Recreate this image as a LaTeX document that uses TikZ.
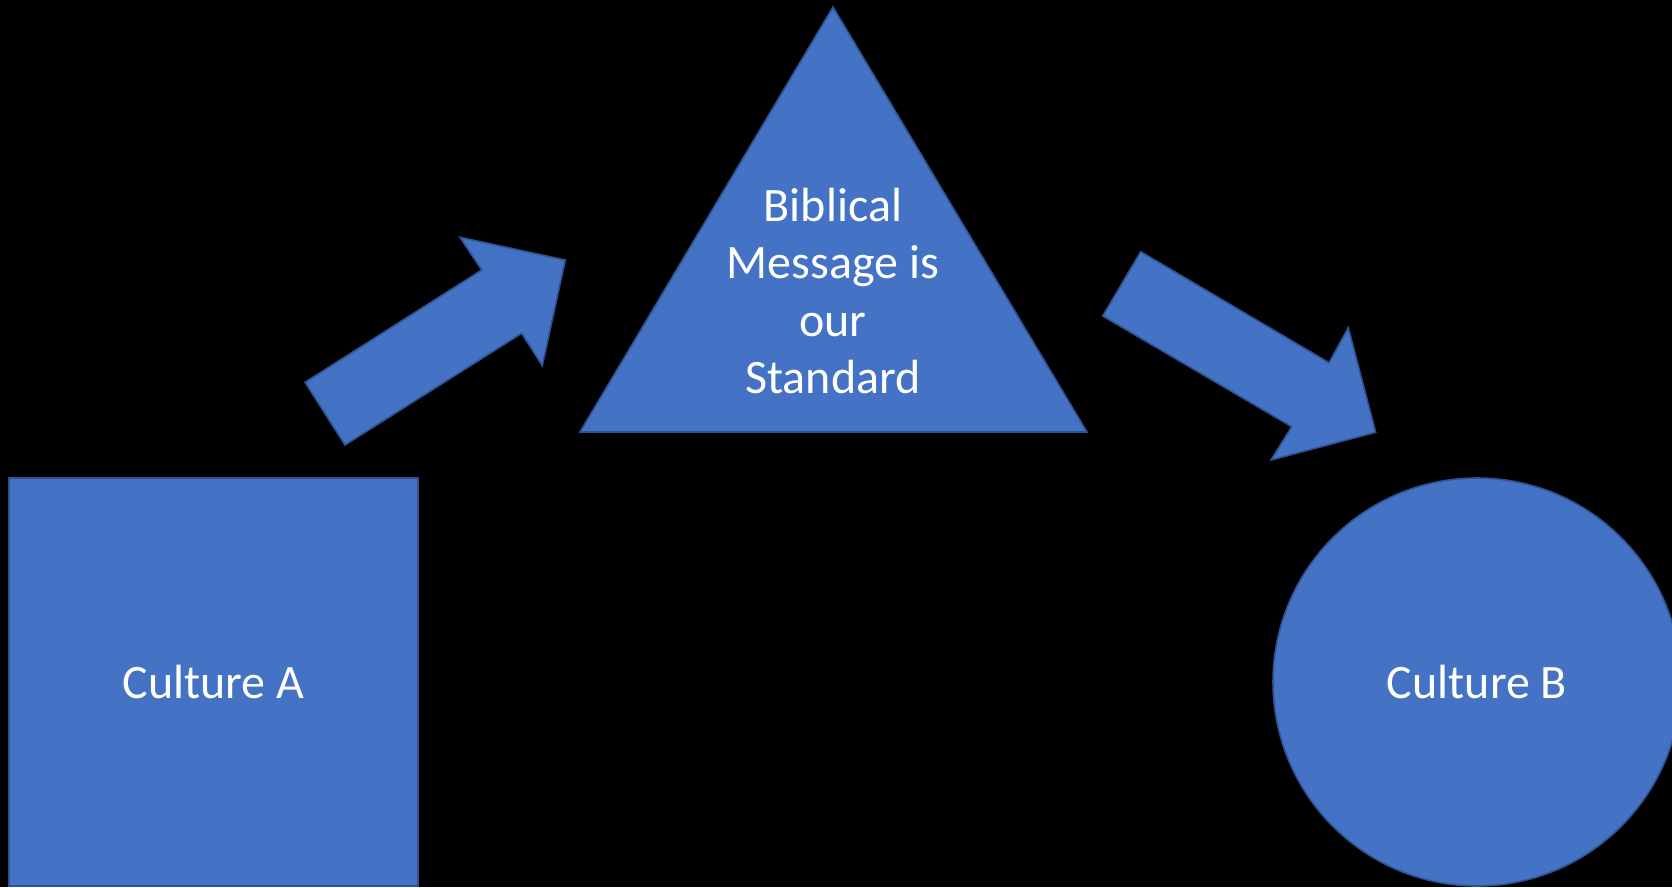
\documentclass[tikz,border=0pt]{standalone}
\usepackage{fontspec}
\setmainfont{Carlito}
\definecolor{shapefill}{HTML}{4472C4}
\definecolor{shapeedge}{HTML}{2F528F}
\begin{document}
\begin{tikzpicture}[x=1pt,y=-1pt,
  shapestyle/.style={fill=shapefill,draw=shapeedge,line width=1.6pt,line join=miter},
  labeltext/.style={text=white,font=\fontsize{48}{57.6}\selectfont,align=center,inner sep=0pt}]
\useasboundingbox (0,0) rectangle (1672,887);
\fill[black] (0,0) rectangle (1672,887);
\begin{scope}
\clip (0,0) rectangle (1672,887);
% Culture A square
\node[shapestyle,rectangle,minimum width=409pt,minimum height=408pt,inner sep=0pt] (cultA) at (213.5,682) {};
\node[labeltext] (cultAtext) at (cultA.center) {Culture A};
% Culture B circle
\node[shapestyle,circle,minimum size=408pt,inner sep=0pt] (cultB) at (1477,682) {};
\node[labeltext] (cultBtext) at (cultB.center) {Culture B};
% Triangle
\coordinate (triL) at (580,432);
\coordinate (triR) at (1087,432);
\coordinate (triT) at (833,7);
\draw[shapestyle] (triL) -- (triR) -- (triT) -- cycle;
\node[labeltext] (bible) at (833,291) {Biblical\\Message is\\our\\Standard};
% Arrow up-right
\draw[shapestyle] (305,382.3) -- (345,445) -- (521.7,333.3) -- (542.3,365.7) -- (565.3,260) -- (460,237.3) -- (481.7,270) -- cycle;
% Arrow down-right
\draw[shapestyle] (1140.7,251.7) -- (1102.7,316) -- (1291.7,426.7) -- (1271,460) -- (1375.7,432.3) -- (1348.3,327.7) -- (1329,362.7) -- cycle;
\end{scope}
\end{tikzpicture}
\end{document}
